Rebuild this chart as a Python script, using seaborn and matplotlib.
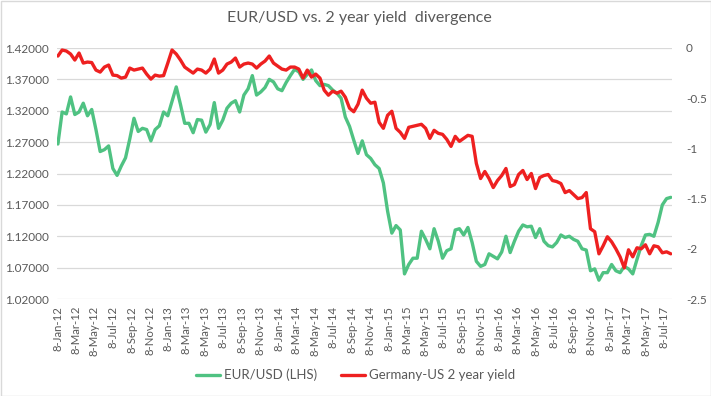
import matplotlib

matplotlib.use("Agg")
import matplotlib.pyplot as plt
from matplotlib.patches import Rectangle
import pandas as pd
import seaborn as sns

# fortnightly readings taken off the chart, starting 8-Jan-12
start_date = "2012-01-08"

eurusd = [
    1.267, 1.318, 1.315, 1.342, 1.314, 1.318, 1.332, 1.312, 1.322, 1.290,
    1.255, 1.258, 1.264, 1.228, 1.217, 1.232, 1.245, 1.275, 1.308, 1.287,
    1.292, 1.290, 1.272, 1.290, 1.296, 1.318, 1.312, 1.335, 1.358, 1.330,
    1.300, 1.300, 1.285, 1.306, 1.305, 1.286, 1.298, 1.333, 1.292, 1.305,
    1.324, 1.332, 1.336, 1.318, 1.345, 1.355, 1.376, 1.345, 1.350, 1.357,
    1.370, 1.366, 1.355, 1.352, 1.365, 1.376, 1.386, 1.382, 1.370, 1.378,
    1.385, 1.368, 1.360, 1.362, 1.360, 1.353, 1.348, 1.340, 1.310, 1.295,
    1.273, 1.252, 1.272, 1.250, 1.244, 1.234, 1.228, 1.205, 1.160, 1.125,
    1.137, 1.130, 1.060, 1.075, 1.085, 1.085, 1.128, 1.115, 1.100, 1.132,
    1.112, 1.085, 1.097, 1.100, 1.130, 1.132, 1.122, 1.134, 1.110, 1.080,
    1.072, 1.075, 1.092, 1.088, 1.084, 1.095, 1.120, 1.094, 1.112, 1.128,
    1.138, 1.135, 1.136, 1.118, 1.132, 1.112, 1.105, 1.103, 1.110, 1.122,
    1.118, 1.120, 1.115, 1.112, 1.100, 1.098, 1.065, 1.068, 1.050, 1.062,
    1.062, 1.075, 1.065, 1.062, 1.072, 1.068, 1.060, 1.083, 1.105, 1.122,
    1.123, 1.120, 1.142, 1.170, 1.180, 1.182,
]

yield_spread = [
    -0.08, -0.02, -0.03, -0.06, -0.12, -0.05, -0.15, -0.14, -0.145, -0.22,
    -0.24, -0.19, -0.17, -0.27, -0.275, -0.30, -0.29, -0.20, -0.22, -0.21,
    -0.20, -0.26, -0.31, -0.27, -0.28, -0.275, -0.15, -0.02, -0.06, -0.12,
    -0.19, -0.22, -0.25, -0.21, -0.22, -0.25, -0.21, -0.11, -0.25, -0.22,
    -0.16, -0.14, -0.10, -0.19, -0.16, -0.15, -0.16, -0.20, -0.16, -0.13,
    -0.08, -0.15, -0.18, -0.21, -0.22, -0.19, -0.19, -0.21, -0.30, -0.22,
    -0.29, -0.26, -0.30, -0.42, -0.47, -0.43, -0.45, -0.43, -0.49, -0.60,
    -0.635, -0.56, -0.42, -0.50, -0.55, -0.54, -0.74, -0.80, -0.67, -0.63,
    -0.80, -0.84, -0.90, -0.79, -0.78, -0.77, -0.76, -0.80, -0.90, -0.82,
    -0.85, -0.86, -0.91, -0.98, -0.88, -0.93, -0.90, -0.87, -0.88, -1.15,
    -1.30, -1.23, -1.30, -1.39, -1.32, -1.27, -1.20, -1.38, -1.36, -1.26,
    -1.22, -1.31, -1.25, -1.40, -1.29, -1.27, -1.26, -1.32, -1.33, -1.35,
    -1.44, -1.42, -1.46, -1.50, -1.49, -1.44, -1.80, -1.83, -2.05, -1.97,
    -1.88, -1.93, -2.00, -2.08, -2.19, -2.01, -2.08, -1.99, -2.00, -1.96,
    -2.05, -1.97, -1.98, -2.04, -2.03, -2.05,
]

left_ticks = [1.02, 1.07, 1.12, 1.17, 1.22, 1.27, 1.32, 1.37, 1.42]
right_ticks = [0, -0.5, -1, -1.5, -2, -2.5]
x_tick_dates = pd.date_range("2012-01-08", "2017-07-08", freq=pd.DateOffset(months=2))

GREEN = "#4fc282"
RED = "#ee2020"
TEXT = "#595959"
GRID = "#d9d9d9"

dates = pd.date_range(start_date, periods=len(eurusd), freq="14D")
df = pd.DataFrame({
    "date": dates,
    "EUR/USD (LHS)": eurusd,
    "Germany-US 2 year yield": yield_spread,
})

sns.set_style("white")
plt.rcParams["font.family"] = ["Lato", "DejaVu Sans"]

W, H = 711, 396
fig = plt.figure(figsize=(W / 100, H / 100), dpi=100)
ax = fig.add_axes([57 / W, 1 - 299 / H, 615 / W, 251 / H])
ax2 = ax.twinx()

sns.lineplot(data=df, x="date", y="EUR/USD (LHS)", ax=ax, color=GREEN,
             lw=2.4, label="EUR/USD (LHS)")
sns.lineplot(data=df, x="date", y="Germany-US 2 year yield", ax=ax2, color=RED,
             lw=2.4, label="Germany-US 2 year yield")

h1, l1 = ax.get_legend_handles_labels()
h2, l2 = ax2.get_legend_handles_labels()
ax.get_legend().remove()
ax2.get_legend().remove()

ax.set_xlim(pd.Timestamp("2012-01-05"), pd.Timestamp("2017-08-03"))
ax.set_ylim(1.02, 1.42)
ax2.set_ylim(-2.5, 0)

ax.set_yticks(left_ticks)
ax.set_yticklabels([f"{v:.5f}" for v in left_ticks])
ax2.set_yticks(right_ticks)
ax2.set_yticklabels([f"{v:g}" for v in right_ticks])
ax.set_xticks(x_tick_dates)
ax.set_xticklabels([f"{d.day}-{d.strftime('%b-%y')}" for d in x_tick_dates],
                   rotation=90)

ax.grid(axis="y", color=GRID, lw=0.9)
ax.grid(axis="x", visible=False)
ax2.grid(False)
for a in (ax, ax2):
    a.set_xlabel("")
    a.set_ylabel("")
    for s in a.spines.values():
        s.set_visible(False)
    a.tick_params(length=0, colors=TEXT, labelsize=8.5)
ax.tick_params(axis="y", pad=6)
ax.tick_params(axis="x", pad=5, labelsize=8.2)
ax2.tick_params(axis="y", pad=10)

fig.text(0.505, 1 - 18 / H, "EUR/USD vs. 2 year yield  divergence",
         ha="center", va="center", fontsize=11.5, color=TEXT)

fig.legend(h1 + h2, l1 + l2, loc="center", bbox_to_anchor=(0.5, 1 - 375 / H),
           ncol=2, frameon=False, fontsize=9.5, handlelength=1.8,
           columnspacing=1.8, handletextpad=0.3, labelcolor=TEXT)

fig.patches.append(Rectangle((0.5 / W, 0.5 / H), 1 - 1 / W, 1 - 1 / H,
                             transform=fig.transFigure, fill=False,
                             edgecolor=GRID, lw=1))

fig.savefig("out.png", dpi=100)
